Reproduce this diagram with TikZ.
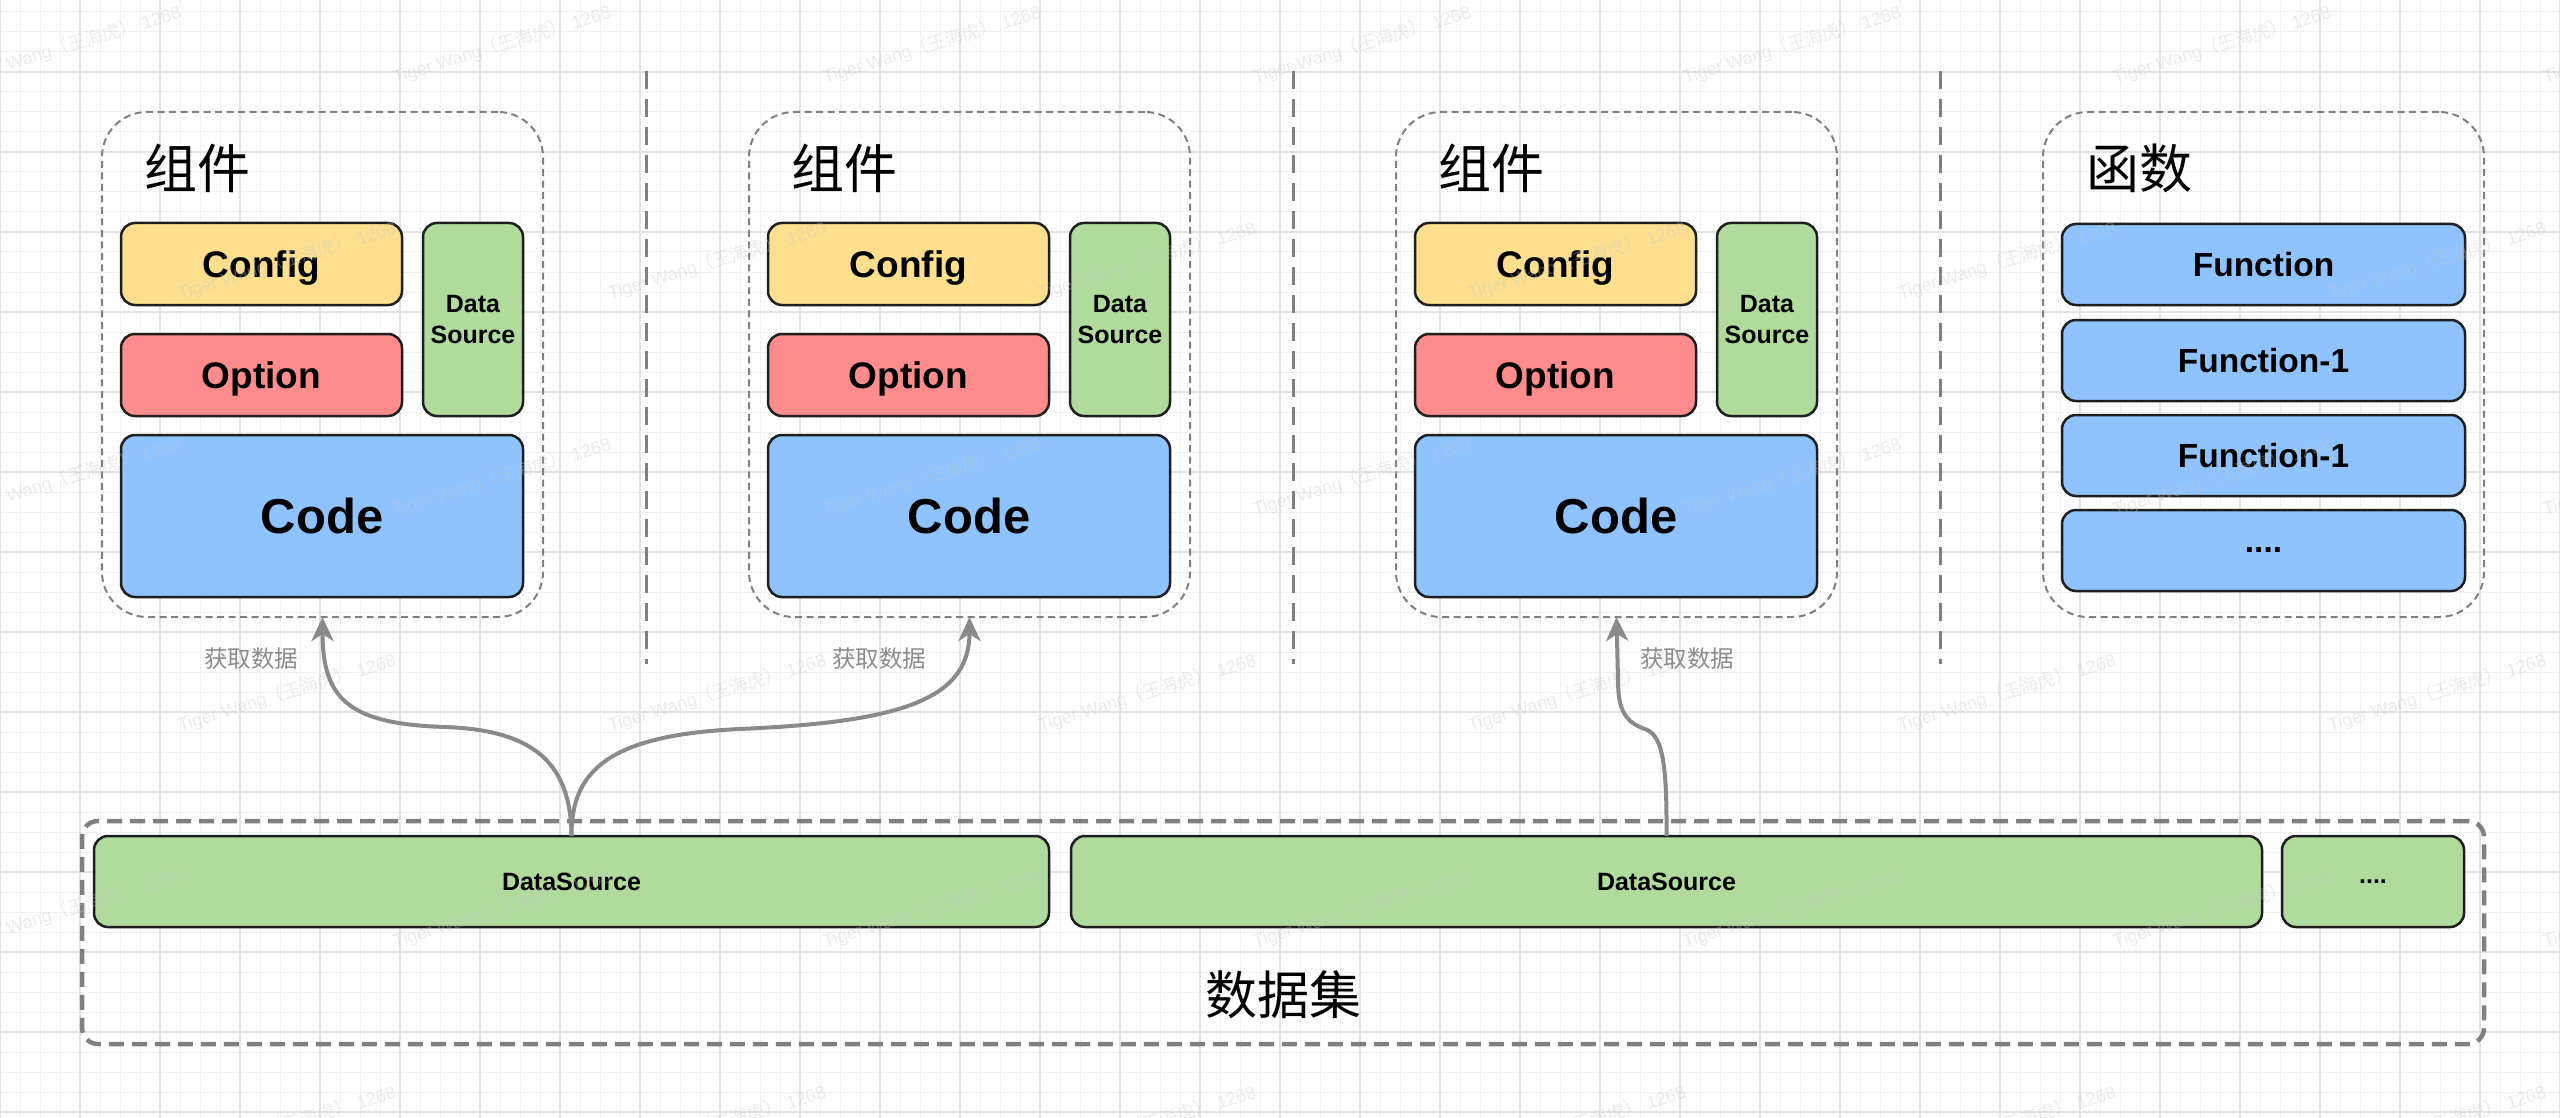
\documentclass[tikz,border=0pt]{standalone}
\usepackage{fontspec}
\setmainfont{Liberation Sans}
\newfontfamily\cjk{Noto Sans CJK SC}
\usetikzlibrary{arrows.meta}
\definecolor{cfgY}{HTML}{FDDF8E}
\definecolor{optR}{HTML}{FF8C8C}
\definecolor{dsG}{HTML}{B0DB9C}
\definecolor{codeB}{HTML}{8EC3FF}
\definecolor{edgeK}{HTML}{1E1E1E}
\definecolor{dashG}{HTML}{808080}
\definecolor{arrG}{HTML}{8A8A8A}
\definecolor{gridMinor}{HTML}{F1F1F1}
\definecolor{gridMajor}{HTML}{E3E3E3}
\definecolor{wmark}{HTML}{C8C8C8}
\definecolor{lblG}{HTML}{8C8C8C}
\begin{document}
\begin{tikzpicture}[x=1pt,y=-1pt,
  inbox/.style={draw=edgeK, line width=2.5pt, rounded corners=14pt, anchor=north west,
                inner sep=0pt, outer sep=0pt, align=center, text depth=0pt},
  outerbox/.style={draw=dashG, line width=2pt, dash pattern=on 7pt off 4.5pt,
                rounded corners=45pt, anchor=north west, inner sep=0pt, outer sep=0pt},
  setbox/.style={draw=dashG, line width=4.5pt, dash pattern=on 15pt off 8pt,
                rounded corners=16pt, anchor=north west, inner sep=0pt, outer sep=0pt},
  sepline/.style={draw=dashG, line width=3pt, dash pattern=on 18pt off 10pt},
  arr/.style={draw=arrG, line width=4pt, -{Stealth[length=24pt,width=22pt,inset=7pt]}},
  midfont/.style={font=\fontsize{37}{44}\selectfont\bfseries},
  bigfont/.style={font=\fontsize{49}{58}\selectfont\bfseries},
  smallfont/.style={font=\fontsize{25}{31}\selectfont\bfseries},
  funcfont/.style={font=\fontsize{33.5}{40}\selectfont\bfseries},
  titlefont/.style={font=\fontsize{53}{60}\selectfont\cjk, inner sep=0pt},
  lbl/.style={font=\fontsize{23.5}{28}\selectfont\cjk, text=lblG, inner sep=0pt},
  wm/.style={font=\fontsize{18}{20}\selectfont, text=wmark, text opacity=0.35, rotate=17, inner sep=0pt}
]
\useasboundingbox (0,0) rectangle (2560,1118);
\clip (0,0) rectangle (2560,1118);
\fill[white] (0,0) rectangle (2560,1118);
% grid
\foreach \x in {0,20,...,2560} \draw[gridMinor, line width=1pt] (\x,0) -- (\x,1118);
\foreach \y in {12,32,...,1112} \draw[gridMinor, line width=1pt] (0,\y) -- (2560,\y);
\foreach \x in {0,80,...,2560} \draw[gridMajor, line width=1.2pt] (\x,0) -- (\x,1118);
\foreach \y in {72,152,...,1112} \draw[gridMajor, line width=1.2pt] (0,\y) -- (2560,\y);

% separators
\draw[sepline] (646,71) -- (646,664);
\draw[sepline] (1293,71) -- (1293,664);
\draw[sepline] (1940,71) -- (1940,664);

% components
\foreach \L/\n in {102/a,749/b,1396/c}{
  \node[outerbox, minimum width=441pt, minimum height=505pt] (comp\n) at (\L,112) {};
  \node[titlefont, anchor=west] (title\n) at (\L+42,168) {组件};
  \node[inbox, fill=cfgY, midfont, minimum width=281pt, minimum height=82pt] (cfg\n) at (\L+19,223) {Config};
  \node[inbox, fill=optR, midfont, minimum width=281pt, minimum height=82pt] (opt\n) at (\L+19,334) {Option};
  \node[inbox, fill=dsG, smallfont, minimum width=100pt, minimum height=193pt] (sds\n) at (\L+321,223) {Data\\Source};
  \node[inbox, fill=codeB, bigfont, minimum width=402pt, minimum height=162pt] (code\n) at (\L+19,435) {Code};
}

% functions
\node[outerbox, minimum width=441pt, minimum height=505pt] (compf) at (2043,112) {};
\node[titlefont, anchor=west] (titlef) at (2086,168) {函数};
\node[inbox, fill=codeB, funcfont, minimum width=403pt, minimum height=81pt] (fn0) at (2062,224) {Function};
\node[inbox, fill=codeB, funcfont, minimum width=403pt, minimum height=81pt] (fn1) at (2062,320) {Function-1};
\node[inbox, fill=codeB, funcfont, minimum width=403pt, minimum height=81pt] (fn2) at (2062,415) {Function-1};
\node[inbox, fill=codeB, funcfont, minimum width=403pt, minimum height=81pt] (fn3) at (2062,510) {....};

% data set
\node[setbox, minimum width=2402pt, minimum height=223pt] (dset) at (82,821) {};
\node[inbox, fill=dsG, smallfont, minimum width=955pt, minimum height=91pt] (dsa) at (94,836) {DataSource};
\node[inbox, fill=dsG, smallfont, minimum width=1191pt, minimum height=91pt] (dsb) at (1071,836) {DataSource};
\node[inbox, fill=dsG, smallfont, minimum width=182pt, minimum height=91pt] (dsm) at (2282,836) {....};
\node[titlefont, font=\fontsize{52}{60}\selectfont\cjk] (dsettitle) at (1283,995) {数据集};

% watermark
\foreach \i in {0,...,6}{\foreach \j in {0,1,2}{
  \node[wm] (wma-\i-\j) at (72+430*\i,45+432*\j) {Tiger Wang{\cjk（王海虎）} 1268};}}
\foreach \i in {0,...,5}{\foreach \j in {0,1,2}{
  \node[wm] (wmb-\i-\j) at (287+430*\i,261+432*\j) {Tiger Wang{\cjk（王海虎）} 1268};}}

% arrows
\coordinate (bendA) at (445,727);
\coordinate (bendB) at (740,729);
\coordinate (bendC) at (1645,729);
\coordinate (riseC) at (1618,680);
\draw[arr] (dsa.north) .. controls (571,760) and (530,730) .. (bendA)
  .. controls (350,724) and (compa.south |- 0,700) .. (compa.south);
\draw[arr] (dsa.north) .. controls (571,770) and (610,735) .. (bendB)
  .. controls (900,722) and (compb.south |- 0,700) .. (compb.south);
\draw[arr] (dsb.north) .. controls (1667,760) and (1662,735) .. (bendC)
  .. controls (1625,722) and (1618,710) .. (riseC) -- (compc.south);

% labels
\node[lbl] (lbla) at (251,659) {获取数据};
\node[lbl] (lblb) at (879,659) {获取数据};
\node[lbl] (lblc) at (1687,659) {获取数据};
\end{tikzpicture}
\end{document}
